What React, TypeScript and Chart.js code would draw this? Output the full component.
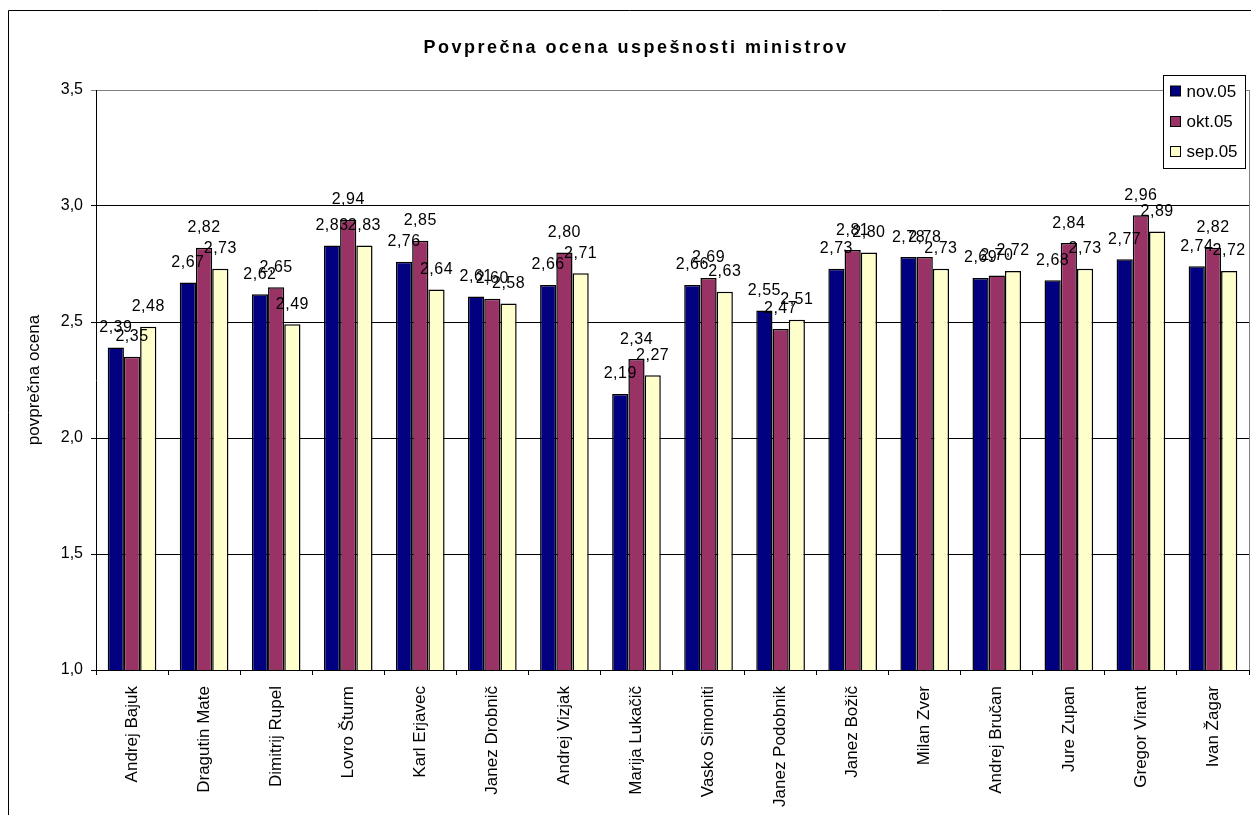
import React, { useEffect, useRef } from "react";
import { Chart, registerables } from "chart.js";

Chart.register(...registerables);

const categories = [
  "Andrej Bajuk",
  "Dragutin Mate",
  "Dimitrij Rupel",
  "Lovro Šturm",
  "Karl Erjavec",
  "Janez Drobnič",
  "Andrej Vizjak",
  "Marija Lukačič",
  "Vasko Simoniti",
  "Janez Podobnik",
  "Janez Božič",
  "Milan Zver",
  "Andrej Bručan",
  "Jure Zupan",
  "Gregor Virant",
  "Ivan Žagar",
];

const nov05 = [2.39, 2.67, 2.62, 2.83, 2.76, 2.61, 2.66, 2.19, 2.66, 2.55, 2.73, 2.78, 2.69, 2.68, 2.77, 2.74];
const okt05 = [2.35, 2.82, 2.65, 2.94, 2.85, 2.6, 2.8, 2.34, 2.69, 2.47, 2.81, 2.78, 2.7, 2.84, 2.96, 2.82];
const sep05 = [2.48, 2.73, 2.49, 2.83, 2.64, 2.58, 2.71, 2.27, 2.63, 2.51, 2.8, 2.73, 2.72, 2.73, 2.89, 2.72];

const seriesNames = ["nov.05", "okt.05", "sep.05"];
const seriesColors = ["#000080", "#993366", "#FFFFCC"];

const titleText = "Povprečna ocena uspešnosti ministrov";
const yTitleText = "povprečna ocena";
const yMin = 1.0;
const yMax = 3.5;
const yStep = 0.5;

const FONT = "'Liberation Sans', Arial, sans-serif";
const W = 1243;
const H = 807;

const decorPlugin = {
  id: "decor",
  afterDatasetsDraw(chart: any) {
    const ctx = chart.ctx;
    ctx.save();
    ctx.fillStyle = "#000";
    ctx.font = `16px ${FONT}`;
    (ctx as any).letterSpacing = "0.5px";
    ctx.textAlign = "center";
    ctx.textBaseline = "alphabetic";
    chart.data.datasets.forEach((ds: any, di: number) => {
      const meta = chart.getDatasetMeta(di);
      meta.data.forEach((el: any, i: number) => {
        const v = ds.data[i] as number;
        ctx.fillText(v.toFixed(2).replace(".", ","), el.x, el.y - 15.5);
      });
    });
    (ctx as any).letterSpacing = "0px";
    ctx.restore();
  },
  afterDraw(chart: any) {
    const ctx = chart.ctx;
    const a = chart.chartArea;
    ctx.save();
    // outer chart border
    ctx.strokeStyle = "#000";
    ctx.lineWidth = 1;
    ctx.beginPath();
    ctx.moveTo(0.5, H);
    ctx.lineTo(0.5, 2.5);
    ctx.lineTo(W, 2.5);
    ctx.stroke();
    // right plot border
    ctx.strokeStyle = "#808080";
    ctx.beginPath();
    ctx.moveTo(Math.round(a.right) + 0.5, a.top);
    ctx.lineTo(Math.round(a.right) + 0.5, a.bottom);
    ctx.stroke();
    // title
    ctx.fillStyle = "#000";
    ctx.font = `bold 18px ${FONT}`;
    (ctx as any).letterSpacing = "2.5px";
    ctx.textAlign = "center";
    ctx.textBaseline = "alphabetic";
    ctx.fillText(titleText, 628, 45);
    (ctx as any).letterSpacing = "0px";
    // y title
    ctx.save();
    ctx.translate(26.5, (a.top + a.bottom) / 2);
    ctx.rotate(-Math.PI / 2);
    ctx.font = `17px ${FONT}`;
    ctx.textAlign = "center";
    ctx.textBaseline = "middle";
    ctx.fillText(yTitleText, 0, 0);
    ctx.restore();
    // legend
    ctx.fillStyle = "#fff";
    ctx.fillRect(1155.5, 67.5, 82, 93);
    ctx.strokeStyle = "#000";
    ctx.lineWidth = 1;
    ctx.strokeRect(1155.5, 67.5, 82, 93);
    const rows = [83, 113.5, 143.5];
    ctx.font = `17px ${FONT}`;
    ctx.textAlign = "left";
    ctx.textBaseline = "middle";
    seriesNames.forEach((n, i) => {
      ctx.fillStyle = seriesColors[i];
      ctx.fillRect(1162.5, rows[i] - 5, 10, 10);
      ctx.strokeStyle = "#000";
      ctx.strokeRect(1162.5, rows[i] - 5, 10, 10);
      ctx.fillStyle = "#000";
      ctx.fillText(n, 1178.5, rows[i] + 1);
    });
    ctx.restore();
  },
};

export default function App() {
  const ref = useRef<HTMLCanvasElement | null>(null);
  useEffect(() => {
    if (!ref.current) return;
    const seriesData = [nov05, okt05, sep05];
    const chart = new Chart(ref.current, {
      type: "bar",
      data: {
        labels: categories,
        datasets: seriesNames.map((n, i) => ({
          label: n,
          data: seriesData[i],
          backgroundColor: seriesColors[i],
          borderColor: "#000",
          borderWidth: 1.5,
          barPercentage: 1,
          categoryPercentage: 0.675,
        })),
      },
      options: {
        responsive: false,
        animation: false,
        layout: { padding: { top: 82, right: 2, bottom: 0, left: 0 } },
        plugins: {
          legend: { display: false },
          title: { display: false },
          tooltip: { enabled: false },
        },
        scales: {
          x: {
            afterFit: (s: any) => {
              s.height = 145;
            },
            grid: {
              offset: true,
              drawOnChartArea: false,
              drawTicks: true,
              tickLength: 5,
              color: "#000",
            },
            border: { color: "#000", width: 1 },
            ticks: {
              autoSkip: false,
              maxRotation: 90,
              minRotation: 90,
              padding: 11,
              color: "#000",
              font: { family: FONT, size: 17 },
            },
          },
          y: {
            min: yMin,
            max: yMax,
            afterFit: (s: any) => {
              s.width = 88;
            },
            grid: {
              color: (c: any) => (c.tick && c.tick.value === yMax ? "#808080" : "#000"),
              tickLength: 5,
            },
            border: { color: "#000", width: 1 },
            ticks: {
              stepSize: yStep,
              padding: 8,
              color: "#000",
              font: { family: FONT, size: 16 },
              callback: (v: any) => Number(v).toFixed(1).replace(".", ","),
            },
          },
        },
      },
      plugins: [decorPlugin],
    });
    return () => chart.destroy();
  }, []);
  return (
    <canvas
      ref={ref}
      width={W}
      height={H}
      style={{ display: "block", width: W, height: H, background: "#fff" }}
    />
  );
}
